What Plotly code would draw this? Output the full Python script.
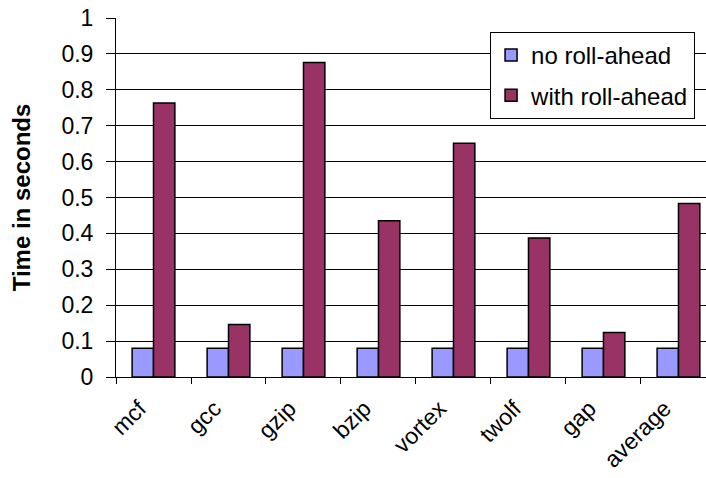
import plotly.graph_objects as go

# Benchmark run times (seconds)
benchmarks = ["mcf", "gcc", "gzip", "bzip", "vortex", "twolf", "gap", "average"]
no_roll_ahead = [0.08, 0.08, 0.08, 0.08, 0.08, 0.08, 0.08, 0.08]
with_roll_ahead = [0.763, 0.146, 0.876, 0.435, 0.651, 0.387, 0.124, 0.483]
y_ticks = [0, 0.1, 0.2, 0.3, 0.4, 0.5, 0.6, 0.7, 0.8, 0.9, 1]
y_tick_text = ["0", "0.1", "0.2", "0.3", "0.4", "0.5", "0.6", "0.7", "0.8", "0.9", "1"]

FONT = "Arial, Liberation Sans, sans-serif"

fig = go.Figure()
fig.add_trace(go.Bar(
    x=benchmarks, y=no_roll_ahead, name="no roll-ahead",
    marker=dict(color="#9999FF", line=dict(color="black", width=1.5)),
    legendgroup="a",
))
fig.add_trace(go.Bar(
    x=benchmarks, y=with_roll_ahead, name="with roll-ahead",
    marker=dict(color="#993366", line=dict(color="black", width=1.5)),
    legendgroup="b",
))

fig.update_layout(
    width=706, height=478,
    margin=dict(l=116, r=0, t=18, b=101),
    paper_bgcolor="white", plot_bgcolor="white",
    barmode="group", bargap=0.43, bargroupgap=0,
    font=dict(family=FONT, size=23, color="black"),
    showlegend=True,
    legend=dict(
        x=0.634, y=0.961, xanchor="left", yanchor="top",
        bgcolor="white", bordercolor="black", borderwidth=1,
        font=dict(family=FONT, size=24, color="black"),
        traceorder="grouped", tracegroupgap=6,
        itemwidth=30,
    ),
    xaxis=dict(
        type="category", range=[-0.5, 7.367],
        showline=True, linecolor="black", linewidth=1,
        ticks="outside", tickson="boundaries", ticklen=6, tickcolor="black",
        tickangle=-45, ticklabelshift=-14, ticklabelstandoff=8,
        showgrid=False, zeroline=False,
        tickfont=dict(family=FONT, size=23, color="black"),
    ),
    yaxis=dict(
        range=[0, 1], tickvals=y_ticks, ticktext=y_tick_text,
        showline=True, linecolor="black", linewidth=1,
        ticks="outside", ticklen=9, tickcolor="black",
        ticklabelstandoff=8,
        showgrid=True, gridcolor="black", gridwidth=1,
        zeroline=False,
        tickfont=dict(family=FONT, size=23, color="black"),
        title=dict(text="<b>Time in seconds</b>", standoff=24,
                   font=dict(family=FONT, size=24, color="black")),
    ),
)

fig.write_html("out.html")
